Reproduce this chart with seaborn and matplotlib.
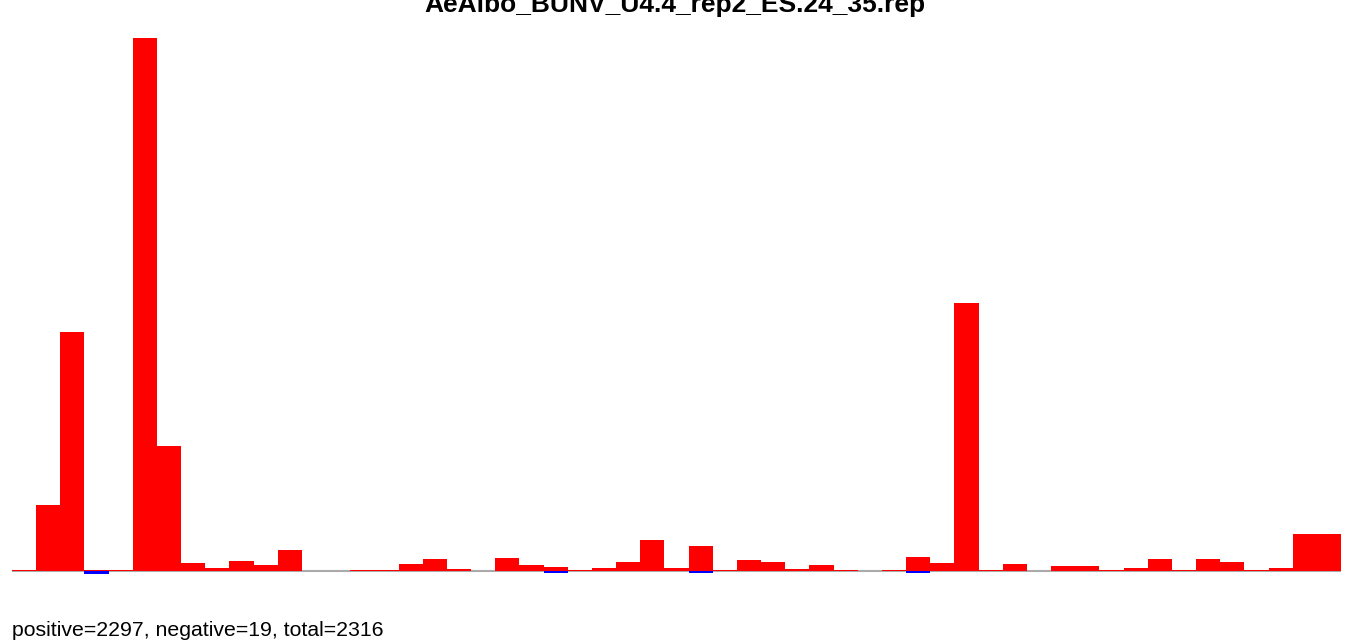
import numpy as np
import pandas as pd
import matplotlib
matplotlib.use('Agg')
import matplotlib.pyplot as plt
import seaborn as sns

# bin counts (55 bins)
positive = [2, 96, 347, 1, 1, 773, 181, 12, 4, 15, 9, 30, 0, 0, 1, 1, 10, 17, 3, 0,
            19, 9, 6, 1, 4, 13, 45, 4, 36, 1, 16, 13, 3, 9, 1, 0, 1, 20, 12, 389,
            1, 10, 0, 7, 7, 1, 4, 17, 1, 17, 13, 1, 4, 54, 54]
negative = [-0.5, -0.5, -0.5, -4, -0.5, -0.5, -0.5, -0.5, -0.5, -0.5, -0.5, 0, 0, -0.5, -0.5, 0, -0.5, -0.5, -0.5, 0,
            -0.5, -0.5, -3, 0, -0.5, -0.5, -0.5, 0, -3, -0.5, -0.5, -0.5, -0.5, -0.5, 0, 0, 0, -3, -0.5, -0.5,
            -0.5, -0.5, 0, -0.5, -0.5, -0.5, -0.5, -0.5, 0, -0.5, -0.5, 0, 0, 0, 0]
title = 'AeAlbo_BUNV_U4.4_rep2_ES.24_35.rep'
footer = 'positive=2297, negative=19, total=2316'

df = pd.DataFrame({'bin': np.arange(len(positive)), 'pos': positive, 'neg': negative})

plt.rcParams['font.family'] = ['Liberation Sans', 'DejaVu Sans']

fig = plt.figure(figsize=(13.49, 6.41), dpi=100)
ax = fig.add_axes([12 / 1349, 1 - 580 / 641, 1329 / 1349, 542 / 641])

ax.axhline(0, color='#aaaaaa', lw=1.5, zorder=0.5)
sns.barplot(data=df, x='bin', y='pos', color='#ff0000', width=1, saturation=1,
            linewidth=0, errorbar=None, ax=ax, zorder=2)
sns.barplot(data=df, x='bin', y='neg', color='#0000ff', width=1, saturation=1,
            linewidth=0, errorbar=None, ax=ax, zorder=2)

ax.set_xlim(-0.5, len(positive) - 0.5)
ax.set_ylim(-13.05, 773)
ax.axis('off')

# title sits partly above the top edge, as in the original
fig.text(0.5, 1 - 12 / 641, title, ha='center', va='baseline',
         fontsize=19, fontweight='bold')
fig.text(12 / 1349, 1 - 636 / 641, footer, ha='left', va='baseline', fontsize=15.3)

fig.savefig('out.png', dpi=100)
